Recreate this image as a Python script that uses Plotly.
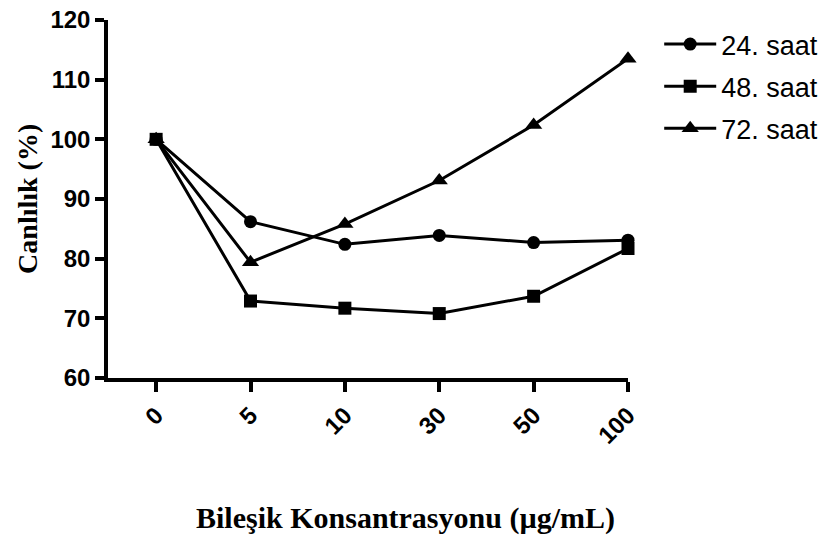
import plotly.graph_objects as go

categories = ["0", "5", "10", "30", "50", "100"]
s24 = [100, 86.2, 82.4, 83.9, 82.7, 83.1]
s48 = [100, 72.9, 71.7, 70.8, 73.7, 81.7]
s72 = [100, 79.4, 85.8, 93.1, 102.4, 113.5]
series = [("24. saat", s24, "circle", 13), ("48. saat", s48, "square", 13), ("72. saat", s72, "triangle-up", 15)]
yticks = [60, 70, 80, 90, 100, 110, 120]

fig = go.Figure()
for i, (name, vals, sym, msize) in enumerate(series):
    fig.add_trace(go.Scatter(
        x=categories, y=vals, name=name, mode="lines+markers", legendgroup=f"g{i}",
        line=dict(color="black", width=3),
        marker=dict(symbol=sym, size=msize, color="black"),
        cliponaxis=False,
    ))

tickfont = dict(family="Liberation Sans, Arial", size=24, color="black", weight="bold")
titlefont = dict(family="Liberation Serif, Times New Roman", size=30, color="black", weight="bold")

fig.update_layout(
    width=830, height=536,
    margin=dict(l=108, r=202, t=20, b=158, autoexpand=False),
    plot_bgcolor="white", paper_bgcolor="white",
    showlegend=True,
    legend=dict(x=1.06, y=1.0, xanchor="left", yanchor="top", traceorder="grouped",
                font=dict(family="Liberation Sans, Arial", size=27, color="black"),
                tracegroupgap=4, itemwidth=52),
    xaxis=dict(type="category", range=[-0.51, 5], showline=True, linecolor="black", linewidth=3.5,
               ticks="outside", ticklen=10, tickwidth=3.5, tickcolor="black",
               tickangle=-45, showgrid=False, zeroline=False, tickfont=tickfont),
    yaxis=dict(range=[60, 120], tickvals=yticks, showline=True, linecolor="black", linewidth=3.5,
               ticks="outside", ticklen=9, tickwidth=3.5, tickcolor="black",
               showgrid=False, zeroline=False, tickfont=tickfont),
    annotations=[
        dict(text="Bileşik Konsantrasyonu (µg/mL)", xref="paper", yref="paper", x=0.573, y=-0.39,
             xanchor="center", yanchor="middle", showarrow=False, font=titlefont),
        dict(text="Canlılık (%)", xref="paper", yref="paper", x=-0.156, y=0.5, textangle=-90,
             xanchor="center", yanchor="middle", showarrow=False,
             font=dict(family="Liberation Serif, Times New Roman", size=28, color="black", weight="bold")),
    ],
)

fig.write_html("out.html")
